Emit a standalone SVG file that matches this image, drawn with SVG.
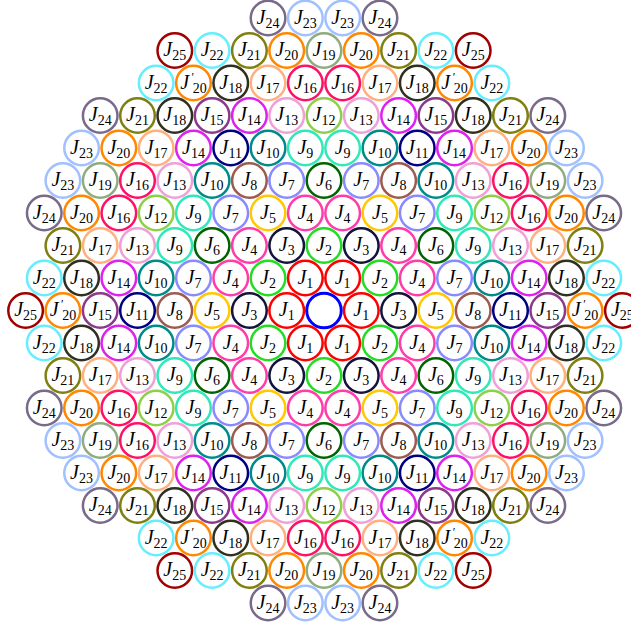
<svg xmlns="http://www.w3.org/2000/svg" width="631" height="624" viewBox="0 0 631 624">
<style>
circle{fill:#fff;stroke-width:2.5}
text{font-family:"Liberation Serif","Times New Roman",serif;font-size:20px;font-style:italic;text-anchor:middle;fill:#000}
tspan{font-style:normal;font-size:14px}
tspan.p{font-size:12px}
.c0{stroke:#0000ff;stroke-width:3}
.c1{stroke:#ff0000}.c2{stroke:#22dd22}.c3{stroke:#14143c}.c4{stroke:#ff3caa}.c5{stroke:#ffc800}
.c6{stroke:#006400}.c7{stroke:#8a8aff}.c8{stroke:#9c5a50}.c9{stroke:#30e8b8}.c10{stroke:#008b8b}
.c11{stroke:#000080}.c12{stroke:#8ed04a}.c13{stroke:#f0a0d8}.c14{stroke:#dd22ee}.c15{stroke:#8b3a8b}
.c16{stroke:#ff1166}.c17{stroke:#ffb080}.c18{stroke:#303020}.c19{stroke:#8fac80}.c20{stroke:#ff8800}
.c21{stroke:#808010}.c22{stroke:#66eeff}.c23{stroke:#a0c0ff}.c24{stroke:#7a6a8a}.c25{stroke:#a00000}
</style>
<g id="nodes">
<!-- row 1 -->
<g id="n1_1" transform="translate(268.05,18)"><circle r="17.3" class="c24"/><text y="5.5">J<tspan dy="4">24</tspan></text></g>
<g id="n1_2" transform="translate(305.35,18)"><circle r="17.3" class="c23"/><text y="5.5">J<tspan dy="4">23</tspan></text></g>
<g id="n1_3" transform="translate(342.65,18)"><circle r="17.3" class="c23"/><text y="5.5">J<tspan dy="4">23</tspan></text></g>
<g id="n1_4" transform="translate(379.95,18)"><circle r="17.3" class="c24"/><text y="5.5">J<tspan dy="4">24</tspan></text></g>
<!-- row 2 -->
<g id="n2_1" transform="translate(174.8,50.5)"><circle r="17.3" class="c25"/><text y="5.5">J<tspan dy="4">25</tspan></text></g>
<g id="n2_2" transform="translate(212.1,50.5)"><circle r="17.3" class="c22"/><text y="5.5">J<tspan dy="4">22</tspan></text></g>
<g id="n2_3" transform="translate(249.4,50.5)"><circle r="17.3" class="c21"/><text y="5.5">J<tspan dy="4">21</tspan></text></g>
<g id="n2_4" transform="translate(286.7,50.5)"><circle r="17.3" class="c20"/><text y="5.5">J<tspan dy="4">20</tspan></text></g>
<g id="n2_5" transform="translate(324,50.5)"><circle r="17.3" class="c19"/><text y="5.5">J<tspan dy="4">19</tspan></text></g>
<g id="n2_6" transform="translate(361.3,50.5)"><circle r="17.3" class="c20"/><text y="5.5">J<tspan dy="4">20</tspan></text></g>
<g id="n2_7" transform="translate(398.6,50.5)"><circle r="17.3" class="c21"/><text y="5.5">J<tspan dy="4">21</tspan></text></g>
<g id="n2_8" transform="translate(435.9,50.5)"><circle r="17.3" class="c22"/><text y="5.5">J<tspan dy="4">22</tspan></text></g>
<g id="n2_9" transform="translate(473.2,50.5)"><circle r="17.3" class="c25"/><text y="5.5">J<tspan dy="4">25</tspan></text></g>
<!-- row 3 -->
<g id="n3_1" transform="translate(156.15,83)"><circle r="17.3" class="c22"/><text y="5.5">J<tspan dy="4">22</tspan></text></g>
<g id="n3_2" transform="translate(193.45,83)"><circle r="17.3" class="c20"/><text y="5.5">J<tspan class="p" dx="2.5" dy="-8">′</tspan><tspan dx="-1.5" dy="12">20</tspan></text></g>
<g id="n3_3" transform="translate(230.75,83)"><circle r="17.3" class="c18"/><text y="5.5">J<tspan dy="4">18</tspan></text></g>
<g id="n3_4" transform="translate(268.05,83)"><circle r="17.3" class="c17"/><text y="5.5">J<tspan dy="4">17</tspan></text></g>
<g id="n3_5" transform="translate(305.35,83)"><circle r="17.3" class="c16"/><text y="5.5">J<tspan dy="4">16</tspan></text></g>
<g id="n3_6" transform="translate(342.65,83)"><circle r="17.3" class="c16"/><text y="5.5">J<tspan dy="4">16</tspan></text></g>
<g id="n3_7" transform="translate(379.95,83)"><circle r="17.3" class="c17"/><text y="5.5">J<tspan dy="4">17</tspan></text></g>
<g id="n3_8" transform="translate(417.25,83)"><circle r="17.3" class="c18"/><text y="5.5">J<tspan dy="4">18</tspan></text></g>
<g id="n3_9" transform="translate(454.55,83)"><circle r="17.3" class="c20"/><text y="5.5">J<tspan class="p" dx="2.5" dy="-8">′</tspan><tspan dx="-1.5" dy="12">20</tspan></text></g>
<g id="n3_10" transform="translate(491.85,83)"><circle r="17.3" class="c22"/><text y="5.5">J<tspan dy="4">22</tspan></text></g>
<!-- row 4 -->
<g id="n4_1" transform="translate(100.2,115.5)"><circle r="17.3" class="c24"/><text y="5.5">J<tspan dy="4">24</tspan></text></g>
<g id="n4_2" transform="translate(137.5,115.5)"><circle r="17.3" class="c21"/><text y="5.5">J<tspan dy="4">21</tspan></text></g>
<g id="n4_3" transform="translate(174.8,115.5)"><circle r="17.3" class="c18"/><text y="5.5">J<tspan dy="4">18</tspan></text></g>
<g id="n4_4" transform="translate(212.1,115.5)"><circle r="17.3" class="c15"/><text y="5.5">J<tspan dy="4">15</tspan></text></g>
<g id="n4_5" transform="translate(249.4,115.5)"><circle r="17.3" class="c14"/><text y="5.5">J<tspan dy="4">14</tspan></text></g>
<g id="n4_6" transform="translate(286.7,115.5)"><circle r="17.3" class="c13"/><text y="5.5">J<tspan dy="4">13</tspan></text></g>
<g id="n4_7" transform="translate(324,115.5)"><circle r="17.3" class="c12"/><text y="5.5">J<tspan dy="4">12</tspan></text></g>
<g id="n4_8" transform="translate(361.3,115.5)"><circle r="17.3" class="c13"/><text y="5.5">J<tspan dy="4">13</tspan></text></g>
<g id="n4_9" transform="translate(398.6,115.5)"><circle r="17.3" class="c14"/><text y="5.5">J<tspan dy="4">14</tspan></text></g>
<g id="n4_10" transform="translate(435.9,115.5)"><circle r="17.3" class="c15"/><text y="5.5">J<tspan dy="4">15</tspan></text></g>
<g id="n4_11" transform="translate(473.2,115.5)"><circle r="17.3" class="c18"/><text y="5.5">J<tspan dy="4">18</tspan></text></g>
<g id="n4_12" transform="translate(510.5,115.5)"><circle r="17.3" class="c21"/><text y="5.5">J<tspan dy="4">21</tspan></text></g>
<g id="n4_13" transform="translate(547.8,115.5)"><circle r="17.3" class="c24"/><text y="5.5">J<tspan dy="4">24</tspan></text></g>
<!-- row 5 -->
<g id="n5_1" transform="translate(81.55,148)"><circle r="17.3" class="c23"/><text y="5.5">J<tspan dy="4">23</tspan></text></g>
<g id="n5_2" transform="translate(118.85,148)"><circle r="17.3" class="c20"/><text y="5.5">J<tspan dy="4">20</tspan></text></g>
<g id="n5_3" transform="translate(156.15,148)"><circle r="17.3" class="c17"/><text y="5.5">J<tspan dy="4">17</tspan></text></g>
<g id="n5_4" transform="translate(193.45,148)"><circle r="17.3" class="c14"/><text y="5.5">J<tspan dy="4">14</tspan></text></g>
<g id="n5_5" transform="translate(230.75,148)"><circle r="17.3" class="c11"/><text y="5.5">J<tspan dy="4">11</tspan></text></g>
<g id="n5_6" transform="translate(268.05,148)"><circle r="17.3" class="c10"/><text y="5.5">J<tspan dy="4">10</tspan></text></g>
<g id="n5_7" transform="translate(305.35,148)"><circle r="17.3" class="c9"/><text y="5.5">J<tspan dy="4">9</tspan></text></g>
<g id="n5_8" transform="translate(342.65,148)"><circle r="17.3" class="c9"/><text y="5.5">J<tspan dy="4">9</tspan></text></g>
<g id="n5_9" transform="translate(379.95,148)"><circle r="17.3" class="c10"/><text y="5.5">J<tspan dy="4">10</tspan></text></g>
<g id="n5_10" transform="translate(417.25,148)"><circle r="17.3" class="c11"/><text y="5.5">J<tspan dy="4">11</tspan></text></g>
<g id="n5_11" transform="translate(454.55,148)"><circle r="17.3" class="c14"/><text y="5.5">J<tspan dy="4">14</tspan></text></g>
<g id="n5_12" transform="translate(491.85,148)"><circle r="17.3" class="c17"/><text y="5.5">J<tspan dy="4">17</tspan></text></g>
<g id="n5_13" transform="translate(529.15,148)"><circle r="17.3" class="c20"/><text y="5.5">J<tspan dy="4">20</tspan></text></g>
<g id="n5_14" transform="translate(566.45,148)"><circle r="17.3" class="c23"/><text y="5.5">J<tspan dy="4">23</tspan></text></g>
<!-- row 6 -->
<g id="n6_1" transform="translate(62.9,180.5)"><circle r="17.3" class="c23"/><text y="5.5">J<tspan dy="4">23</tspan></text></g>
<g id="n6_2" transform="translate(100.2,180.5)"><circle r="17.3" class="c19"/><text y="5.5">J<tspan dy="4">19</tspan></text></g>
<g id="n6_3" transform="translate(137.5,180.5)"><circle r="17.3" class="c16"/><text y="5.5">J<tspan dy="4">16</tspan></text></g>
<g id="n6_4" transform="translate(174.8,180.5)"><circle r="17.3" class="c13"/><text y="5.5">J<tspan dy="4">13</tspan></text></g>
<g id="n6_5" transform="translate(212.1,180.5)"><circle r="17.3" class="c10"/><text y="5.5">J<tspan dy="4">10</tspan></text></g>
<g id="n6_6" transform="translate(249.4,180.5)"><circle r="17.3" class="c8"/><text y="5.5">J<tspan dy="4">8</tspan></text></g>
<g id="n6_7" transform="translate(286.7,180.5)"><circle r="17.3" class="c7"/><text y="5.5">J<tspan dy="4">7</tspan></text></g>
<g id="n6_8" transform="translate(324,180.5)"><circle r="17.3" class="c6"/><text y="5.5">J<tspan dy="4">6</tspan></text></g>
<g id="n6_9" transform="translate(361.3,180.5)"><circle r="17.3" class="c7"/><text y="5.5">J<tspan dy="4">7</tspan></text></g>
<g id="n6_10" transform="translate(398.6,180.5)"><circle r="17.3" class="c8"/><text y="5.5">J<tspan dy="4">8</tspan></text></g>
<g id="n6_11" transform="translate(435.9,180.5)"><circle r="17.3" class="c10"/><text y="5.5">J<tspan dy="4">10</tspan></text></g>
<g id="n6_12" transform="translate(473.2,180.5)"><circle r="17.3" class="c13"/><text y="5.5">J<tspan dy="4">13</tspan></text></g>
<g id="n6_13" transform="translate(510.5,180.5)"><circle r="17.3" class="c16"/><text y="5.5">J<tspan dy="4">16</tspan></text></g>
<g id="n6_14" transform="translate(547.8,180.5)"><circle r="17.3" class="c19"/><text y="5.5">J<tspan dy="4">19</tspan></text></g>
<g id="n6_15" transform="translate(585.1,180.5)"><circle r="17.3" class="c23"/><text y="5.5">J<tspan dy="4">23</tspan></text></g>
<!-- row 7 -->
<g id="n7_1" transform="translate(44.25,213)"><circle r="17.3" class="c24"/><text y="5.5">J<tspan dy="4">24</tspan></text></g>
<g id="n7_2" transform="translate(81.55,213)"><circle r="17.3" class="c20"/><text y="5.5">J<tspan dy="4">20</tspan></text></g>
<g id="n7_3" transform="translate(118.85,213)"><circle r="17.3" class="c16"/><text y="5.5">J<tspan dy="4">16</tspan></text></g>
<g id="n7_4" transform="translate(156.15,213)"><circle r="17.3" class="c12"/><text y="5.5">J<tspan dy="4">12</tspan></text></g>
<g id="n7_5" transform="translate(193.45,213)"><circle r="17.3" class="c9"/><text y="5.5">J<tspan dy="4">9</tspan></text></g>
<g id="n7_6" transform="translate(230.75,213)"><circle r="17.3" class="c7"/><text y="5.5">J<tspan dy="4">7</tspan></text></g>
<g id="n7_7" transform="translate(268.05,213)"><circle r="17.3" class="c5"/><text y="5.5">J<tspan dy="4">5</tspan></text></g>
<g id="n7_8" transform="translate(305.35,213)"><circle r="17.3" class="c4"/><text y="5.5">J<tspan dy="4">4</tspan></text></g>
<g id="n7_9" transform="translate(342.65,213)"><circle r="17.3" class="c4"/><text y="5.5">J<tspan dy="4">4</tspan></text></g>
<g id="n7_10" transform="translate(379.95,213)"><circle r="17.3" class="c5"/><text y="5.5">J<tspan dy="4">5</tspan></text></g>
<g id="n7_11" transform="translate(417.25,213)"><circle r="17.3" class="c7"/><text y="5.5">J<tspan dy="4">7</tspan></text></g>
<g id="n7_12" transform="translate(454.55,213)"><circle r="17.3" class="c9"/><text y="5.5">J<tspan dy="4">9</tspan></text></g>
<g id="n7_13" transform="translate(491.85,213)"><circle r="17.3" class="c12"/><text y="5.5">J<tspan dy="4">12</tspan></text></g>
<g id="n7_14" transform="translate(529.15,213)"><circle r="17.3" class="c16"/><text y="5.5">J<tspan dy="4">16</tspan></text></g>
<g id="n7_15" transform="translate(566.45,213)"><circle r="17.3" class="c20"/><text y="5.5">J<tspan dy="4">20</tspan></text></g>
<g id="n7_16" transform="translate(603.75,213)"><circle r="17.3" class="c24"/><text y="5.5">J<tspan dy="4">24</tspan></text></g>
<!-- row 8 -->
<g id="n8_1" transform="translate(62.9,245.5)"><circle r="17.3" class="c21"/><text y="5.5">J<tspan dy="4">21</tspan></text></g>
<g id="n8_2" transform="translate(100.2,245.5)"><circle r="17.3" class="c17"/><text y="5.5">J<tspan dy="4">17</tspan></text></g>
<g id="n8_3" transform="translate(137.5,245.5)"><circle r="17.3" class="c13"/><text y="5.5">J<tspan dy="4">13</tspan></text></g>
<g id="n8_4" transform="translate(174.8,245.5)"><circle r="17.3" class="c9"/><text y="5.5">J<tspan dy="4">9</tspan></text></g>
<g id="n8_5" transform="translate(212.1,245.5)"><circle r="17.3" class="c6"/><text y="5.5">J<tspan dy="4">6</tspan></text></g>
<g id="n8_6" transform="translate(249.4,245.5)"><circle r="17.3" class="c4"/><text y="5.5">J<tspan dy="4">4</tspan></text></g>
<g id="n8_7" transform="translate(286.7,245.5)"><circle r="17.3" class="c3"/><text y="5.5">J<tspan dy="4">3</tspan></text></g>
<g id="n8_8" transform="translate(324,245.5)"><circle r="17.3" class="c2"/><text y="5.5">J<tspan dy="4">2</tspan></text></g>
<g id="n8_9" transform="translate(361.3,245.5)"><circle r="17.3" class="c3"/><text y="5.5">J<tspan dy="4">3</tspan></text></g>
<g id="n8_10" transform="translate(398.6,245.5)"><circle r="17.3" class="c4"/><text y="5.5">J<tspan dy="4">4</tspan></text></g>
<g id="n8_11" transform="translate(435.9,245.5)"><circle r="17.3" class="c6"/><text y="5.5">J<tspan dy="4">6</tspan></text></g>
<g id="n8_12" transform="translate(473.2,245.5)"><circle r="17.3" class="c9"/><text y="5.5">J<tspan dy="4">9</tspan></text></g>
<g id="n8_13" transform="translate(510.5,245.5)"><circle r="17.3" class="c13"/><text y="5.5">J<tspan dy="4">13</tspan></text></g>
<g id="n8_14" transform="translate(547.8,245.5)"><circle r="17.3" class="c17"/><text y="5.5">J<tspan dy="4">17</tspan></text></g>
<g id="n8_15" transform="translate(585.1,245.5)"><circle r="17.3" class="c21"/><text y="5.5">J<tspan dy="4">21</tspan></text></g>
<!-- row 9 -->
<g id="n9_1" transform="translate(44.25,278)"><circle r="17.3" class="c22"/><text y="5.5">J<tspan dy="4">22</tspan></text></g>
<g id="n9_2" transform="translate(81.55,278)"><circle r="17.3" class="c18"/><text y="5.5">J<tspan dy="4">18</tspan></text></g>
<g id="n9_3" transform="translate(118.85,278)"><circle r="17.3" class="c14"/><text y="5.5">J<tspan dy="4">14</tspan></text></g>
<g id="n9_4" transform="translate(156.15,278)"><circle r="17.3" class="c10"/><text y="5.5">J<tspan dy="4">10</tspan></text></g>
<g id="n9_5" transform="translate(193.45,278)"><circle r="17.3" class="c7"/><text y="5.5">J<tspan dy="4">7</tspan></text></g>
<g id="n9_6" transform="translate(230.75,278)"><circle r="17.3" class="c4"/><text y="5.5">J<tspan dy="4">4</tspan></text></g>
<g id="n9_7" transform="translate(268.05,278)"><circle r="17.3" class="c2"/><text y="5.5">J<tspan dy="4">2</tspan></text></g>
<g id="n9_8" transform="translate(305.35,278)"><circle r="17.3" class="c1"/><text y="5.5">J<tspan dy="4">1</tspan></text></g>
<g id="n9_9" transform="translate(342.65,278)"><circle r="17.3" class="c1"/><text y="5.5">J<tspan dy="4">1</tspan></text></g>
<g id="n9_10" transform="translate(379.95,278)"><circle r="17.3" class="c2"/><text y="5.5">J<tspan dy="4">2</tspan></text></g>
<g id="n9_11" transform="translate(417.25,278)"><circle r="17.3" class="c4"/><text y="5.5">J<tspan dy="4">4</tspan></text></g>
<g id="n9_12" transform="translate(454.55,278)"><circle r="17.3" class="c7"/><text y="5.5">J<tspan dy="4">7</tspan></text></g>
<g id="n9_13" transform="translate(491.85,278)"><circle r="17.3" class="c10"/><text y="5.5">J<tspan dy="4">10</tspan></text></g>
<g id="n9_14" transform="translate(529.15,278)"><circle r="17.3" class="c14"/><text y="5.5">J<tspan dy="4">14</tspan></text></g>
<g id="n9_15" transform="translate(566.45,278)"><circle r="17.3" class="c18"/><text y="5.5">J<tspan dy="4">18</tspan></text></g>
<g id="n9_16" transform="translate(603.75,278)"><circle r="17.3" class="c22"/><text y="5.5">J<tspan dy="4">22</tspan></text></g>
<!-- row 10 (centre) -->
<g id="n10_1" transform="translate(25.6,310.5)"><circle r="17.3" class="c25"/><text y="5.5">J<tspan dy="4">25</tspan></text></g>
<g id="n10_2" transform="translate(62.9,310.5)"><circle r="17.3" class="c20"/><text y="5.5">J<tspan class="p" dx="2.5" dy="-8">′</tspan><tspan dx="-1.5" dy="12">20</tspan></text></g>
<g id="n10_3" transform="translate(100.2,310.5)"><circle r="17.3" class="c15"/><text y="5.5">J<tspan dy="4">15</tspan></text></g>
<g id="n10_4" transform="translate(137.5,310.5)"><circle r="17.3" class="c11"/><text y="5.5">J<tspan dy="4">11</tspan></text></g>
<g id="n10_5" transform="translate(174.8,310.5)"><circle r="17.3" class="c8"/><text y="5.5">J<tspan dy="4">8</tspan></text></g>
<g id="n10_6" transform="translate(212.1,310.5)"><circle r="17.3" class="c5"/><text y="5.5">J<tspan dy="4">5</tspan></text></g>
<g id="n10_7" transform="translate(249.4,310.5)"><circle r="17.3" class="c3"/><text y="5.5">J<tspan dy="4">3</tspan></text></g>
<g id="n10_8" transform="translate(286.7,310.5)"><circle r="17.3" class="c1"/><text y="5.5">J<tspan dy="4">1</tspan></text></g>
<g id="n10_9" transform="translate(324,310.5)"><circle r="17.3" class="c0"/></g>
<g id="n10_10" transform="translate(361.3,310.5)"><circle r="17.3" class="c1"/><text y="5.5">J<tspan dy="4">1</tspan></text></g>
<g id="n10_11" transform="translate(398.6,310.5)"><circle r="17.3" class="c3"/><text y="5.5">J<tspan dy="4">3</tspan></text></g>
<g id="n10_12" transform="translate(435.9,310.5)"><circle r="17.3" class="c5"/><text y="5.5">J<tspan dy="4">5</tspan></text></g>
<g id="n10_13" transform="translate(473.2,310.5)"><circle r="17.3" class="c8"/><text y="5.5">J<tspan dy="4">8</tspan></text></g>
<g id="n10_14" transform="translate(510.5,310.5)"><circle r="17.3" class="c11"/><text y="5.5">J<tspan dy="4">11</tspan></text></g>
<g id="n10_15" transform="translate(547.8,310.5)"><circle r="17.3" class="c15"/><text y="5.5">J<tspan dy="4">15</tspan></text></g>
<g id="n10_16" transform="translate(585.1,310.5)"><circle r="17.3" class="c20"/><text y="5.5">J<tspan class="p" dx="2.5" dy="-8">′</tspan><tspan dx="-1.5" dy="12">20</tspan></text></g>
<g id="n10_17" transform="translate(622.4,310.5)"><circle r="17.3" class="c25"/><text y="5.5">J<tspan dy="4">25</tspan></text></g>
<!-- row 11 -->
<g id="n11_1" transform="translate(44.25,343)"><circle r="17.3" class="c22"/><text y="5.5">J<tspan dy="4">22</tspan></text></g>
<g id="n11_2" transform="translate(81.55,343)"><circle r="17.3" class="c18"/><text y="5.5">J<tspan dy="4">18</tspan></text></g>
<g id="n11_3" transform="translate(118.85,343)"><circle r="17.3" class="c14"/><text y="5.5">J<tspan dy="4">14</tspan></text></g>
<g id="n11_4" transform="translate(156.15,343)"><circle r="17.3" class="c10"/><text y="5.5">J<tspan dy="4">10</tspan></text></g>
<g id="n11_5" transform="translate(193.45,343)"><circle r="17.3" class="c7"/><text y="5.5">J<tspan dy="4">7</tspan></text></g>
<g id="n11_6" transform="translate(230.75,343)"><circle r="17.3" class="c4"/><text y="5.5">J<tspan dy="4">4</tspan></text></g>
<g id="n11_7" transform="translate(268.05,343)"><circle r="17.3" class="c2"/><text y="5.5">J<tspan dy="4">2</tspan></text></g>
<g id="n11_8" transform="translate(305.35,343)"><circle r="17.3" class="c1"/><text y="5.5">J<tspan dy="4">1</tspan></text></g>
<g id="n11_9" transform="translate(342.65,343)"><circle r="17.3" class="c1"/><text y="5.5">J<tspan dy="4">1</tspan></text></g>
<g id="n11_10" transform="translate(379.95,343)"><circle r="17.3" class="c2"/><text y="5.5">J<tspan dy="4">2</tspan></text></g>
<g id="n11_11" transform="translate(417.25,343)"><circle r="17.3" class="c4"/><text y="5.5">J<tspan dy="4">4</tspan></text></g>
<g id="n11_12" transform="translate(454.55,343)"><circle r="17.3" class="c7"/><text y="5.5">J<tspan dy="4">7</tspan></text></g>
<g id="n11_13" transform="translate(491.85,343)"><circle r="17.3" class="c10"/><text y="5.5">J<tspan dy="4">10</tspan></text></g>
<g id="n11_14" transform="translate(529.15,343)"><circle r="17.3" class="c14"/><text y="5.5">J<tspan dy="4">14</tspan></text></g>
<g id="n11_15" transform="translate(566.45,343)"><circle r="17.3" class="c18"/><text y="5.5">J<tspan dy="4">18</tspan></text></g>
<g id="n11_16" transform="translate(603.75,343)"><circle r="17.3" class="c22"/><text y="5.5">J<tspan dy="4">22</tspan></text></g>
<!-- row 12 -->
<g id="n12_1" transform="translate(62.9,375.5)"><circle r="17.3" class="c21"/><text y="5.5">J<tspan dy="4">21</tspan></text></g>
<g id="n12_2" transform="translate(100.2,375.5)"><circle r="17.3" class="c17"/><text y="5.5">J<tspan dy="4">17</tspan></text></g>
<g id="n12_3" transform="translate(137.5,375.5)"><circle r="17.3" class="c13"/><text y="5.5">J<tspan dy="4">13</tspan></text></g>
<g id="n12_4" transform="translate(174.8,375.5)"><circle r="17.3" class="c9"/><text y="5.5">J<tspan dy="4">9</tspan></text></g>
<g id="n12_5" transform="translate(212.1,375.5)"><circle r="17.3" class="c6"/><text y="5.5">J<tspan dy="4">6</tspan></text></g>
<g id="n12_6" transform="translate(249.4,375.5)"><circle r="17.3" class="c4"/><text y="5.5">J<tspan dy="4">4</tspan></text></g>
<g id="n12_7" transform="translate(286.7,375.5)"><circle r="17.3" class="c3"/><text y="5.5">J<tspan dy="4">3</tspan></text></g>
<g id="n12_8" transform="translate(324,375.5)"><circle r="17.3" class="c2"/><text y="5.5">J<tspan dy="4">2</tspan></text></g>
<g id="n12_9" transform="translate(361.3,375.5)"><circle r="17.3" class="c3"/><text y="5.5">J<tspan dy="4">3</tspan></text></g>
<g id="n12_10" transform="translate(398.6,375.5)"><circle r="17.3" class="c4"/><text y="5.5">J<tspan dy="4">4</tspan></text></g>
<g id="n12_11" transform="translate(435.9,375.5)"><circle r="17.3" class="c6"/><text y="5.5">J<tspan dy="4">6</tspan></text></g>
<g id="n12_12" transform="translate(473.2,375.5)"><circle r="17.3" class="c9"/><text y="5.5">J<tspan dy="4">9</tspan></text></g>
<g id="n12_13" transform="translate(510.5,375.5)"><circle r="17.3" class="c13"/><text y="5.5">J<tspan dy="4">13</tspan></text></g>
<g id="n12_14" transform="translate(547.8,375.5)"><circle r="17.3" class="c17"/><text y="5.5">J<tspan dy="4">17</tspan></text></g>
<g id="n12_15" transform="translate(585.1,375.5)"><circle r="17.3" class="c21"/><text y="5.5">J<tspan dy="4">21</tspan></text></g>
<!-- row 13 -->
<g id="n13_1" transform="translate(44.25,408)"><circle r="17.3" class="c24"/><text y="5.5">J<tspan dy="4">24</tspan></text></g>
<g id="n13_2" transform="translate(81.55,408)"><circle r="17.3" class="c20"/><text y="5.5">J<tspan dy="4">20</tspan></text></g>
<g id="n13_3" transform="translate(118.85,408)"><circle r="17.3" class="c16"/><text y="5.5">J<tspan dy="4">16</tspan></text></g>
<g id="n13_4" transform="translate(156.15,408)"><circle r="17.3" class="c12"/><text y="5.5">J<tspan dy="4">12</tspan></text></g>
<g id="n13_5" transform="translate(193.45,408)"><circle r="17.3" class="c9"/><text y="5.5">J<tspan dy="4">9</tspan></text></g>
<g id="n13_6" transform="translate(230.75,408)"><circle r="17.3" class="c7"/><text y="5.5">J<tspan dy="4">7</tspan></text></g>
<g id="n13_7" transform="translate(268.05,408)"><circle r="17.3" class="c5"/><text y="5.5">J<tspan dy="4">5</tspan></text></g>
<g id="n13_8" transform="translate(305.35,408)"><circle r="17.3" class="c4"/><text y="5.5">J<tspan dy="4">4</tspan></text></g>
<g id="n13_9" transform="translate(342.65,408)"><circle r="17.3" class="c4"/><text y="5.5">J<tspan dy="4">4</tspan></text></g>
<g id="n13_10" transform="translate(379.95,408)"><circle r="17.3" class="c5"/><text y="5.5">J<tspan dy="4">5</tspan></text></g>
<g id="n13_11" transform="translate(417.25,408)"><circle r="17.3" class="c7"/><text y="5.5">J<tspan dy="4">7</tspan></text></g>
<g id="n13_12" transform="translate(454.55,408)"><circle r="17.3" class="c9"/><text y="5.5">J<tspan dy="4">9</tspan></text></g>
<g id="n13_13" transform="translate(491.85,408)"><circle r="17.3" class="c12"/><text y="5.5">J<tspan dy="4">12</tspan></text></g>
<g id="n13_14" transform="translate(529.15,408)"><circle r="17.3" class="c16"/><text y="5.5">J<tspan dy="4">16</tspan></text></g>
<g id="n13_15" transform="translate(566.45,408)"><circle r="17.3" class="c20"/><text y="5.5">J<tspan dy="4">20</tspan></text></g>
<g id="n13_16" transform="translate(603.75,408)"><circle r="17.3" class="c24"/><text y="5.5">J<tspan dy="4">24</tspan></text></g>
<!-- row 14 -->
<g id="n14_1" transform="translate(62.9,440.5)"><circle r="17.3" class="c23"/><text y="5.5">J<tspan dy="4">23</tspan></text></g>
<g id="n14_2" transform="translate(100.2,440.5)"><circle r="17.3" class="c19"/><text y="5.5">J<tspan dy="4">19</tspan></text></g>
<g id="n14_3" transform="translate(137.5,440.5)"><circle r="17.3" class="c16"/><text y="5.5">J<tspan dy="4">16</tspan></text></g>
<g id="n14_4" transform="translate(174.8,440.5)"><circle r="17.3" class="c13"/><text y="5.5">J<tspan dy="4">13</tspan></text></g>
<g id="n14_5" transform="translate(212.1,440.5)"><circle r="17.3" class="c10"/><text y="5.5">J<tspan dy="4">10</tspan></text></g>
<g id="n14_6" transform="translate(249.4,440.5)"><circle r="17.3" class="c8"/><text y="5.5">J<tspan dy="4">8</tspan></text></g>
<g id="n14_7" transform="translate(286.7,440.5)"><circle r="17.3" class="c7"/><text y="5.5">J<tspan dy="4">7</tspan></text></g>
<g id="n14_8" transform="translate(324,440.5)"><circle r="17.3" class="c6"/><text y="5.5">J<tspan dy="4">6</tspan></text></g>
<g id="n14_9" transform="translate(361.3,440.5)"><circle r="17.3" class="c7"/><text y="5.5">J<tspan dy="4">7</tspan></text></g>
<g id="n14_10" transform="translate(398.6,440.5)"><circle r="17.3" class="c8"/><text y="5.5">J<tspan dy="4">8</tspan></text></g>
<g id="n14_11" transform="translate(435.9,440.5)"><circle r="17.3" class="c10"/><text y="5.5">J<tspan dy="4">10</tspan></text></g>
<g id="n14_12" transform="translate(473.2,440.5)"><circle r="17.3" class="c13"/><text y="5.5">J<tspan dy="4">13</tspan></text></g>
<g id="n14_13" transform="translate(510.5,440.5)"><circle r="17.3" class="c16"/><text y="5.5">J<tspan dy="4">16</tspan></text></g>
<g id="n14_14" transform="translate(547.8,440.5)"><circle r="17.3" class="c19"/><text y="5.5">J<tspan dy="4">19</tspan></text></g>
<g id="n14_15" transform="translate(585.1,440.5)"><circle r="17.3" class="c23"/><text y="5.5">J<tspan dy="4">23</tspan></text></g>
<!-- row 15 -->
<g id="n15_1" transform="translate(81.55,473)"><circle r="17.3" class="c23"/><text y="5.5">J<tspan dy="4">23</tspan></text></g>
<g id="n15_2" transform="translate(118.85,473)"><circle r="17.3" class="c20"/><text y="5.5">J<tspan dy="4">20</tspan></text></g>
<g id="n15_3" transform="translate(156.15,473)"><circle r="17.3" class="c17"/><text y="5.5">J<tspan dy="4">17</tspan></text></g>
<g id="n15_4" transform="translate(193.45,473)"><circle r="17.3" class="c14"/><text y="5.5">J<tspan dy="4">14</tspan></text></g>
<g id="n15_5" transform="translate(230.75,473)"><circle r="17.3" class="c11"/><text y="5.5">J<tspan dy="4">11</tspan></text></g>
<g id="n15_6" transform="translate(268.05,473)"><circle r="17.3" class="c10"/><text y="5.5">J<tspan dy="4">10</tspan></text></g>
<g id="n15_7" transform="translate(305.35,473)"><circle r="17.3" class="c9"/><text y="5.5">J<tspan dy="4">9</tspan></text></g>
<g id="n15_8" transform="translate(342.65,473)"><circle r="17.3" class="c9"/><text y="5.5">J<tspan dy="4">9</tspan></text></g>
<g id="n15_9" transform="translate(379.95,473)"><circle r="17.3" class="c10"/><text y="5.5">J<tspan dy="4">10</tspan></text></g>
<g id="n15_10" transform="translate(417.25,473)"><circle r="17.3" class="c11"/><text y="5.5">J<tspan dy="4">11</tspan></text></g>
<g id="n15_11" transform="translate(454.55,473)"><circle r="17.3" class="c14"/><text y="5.5">J<tspan dy="4">14</tspan></text></g>
<g id="n15_12" transform="translate(491.85,473)"><circle r="17.3" class="c17"/><text y="5.5">J<tspan dy="4">17</tspan></text></g>
<g id="n15_13" transform="translate(529.15,473)"><circle r="17.3" class="c20"/><text y="5.5">J<tspan dy="4">20</tspan></text></g>
<g id="n15_14" transform="translate(566.45,473)"><circle r="17.3" class="c23"/><text y="5.5">J<tspan dy="4">23</tspan></text></g>
<!-- row 16 -->
<g id="n16_1" transform="translate(100.2,505.5)"><circle r="17.3" class="c24"/><text y="5.5">J<tspan dy="4">24</tspan></text></g>
<g id="n16_2" transform="translate(137.5,505.5)"><circle r="17.3" class="c21"/><text y="5.5">J<tspan dy="4">21</tspan></text></g>
<g id="n16_3" transform="translate(174.8,505.5)"><circle r="17.3" class="c18"/><text y="5.5">J<tspan dy="4">18</tspan></text></g>
<g id="n16_4" transform="translate(212.1,505.5)"><circle r="17.3" class="c15"/><text y="5.5">J<tspan dy="4">15</tspan></text></g>
<g id="n16_5" transform="translate(249.4,505.5)"><circle r="17.3" class="c14"/><text y="5.5">J<tspan dy="4">14</tspan></text></g>
<g id="n16_6" transform="translate(286.7,505.5)"><circle r="17.3" class="c13"/><text y="5.5">J<tspan dy="4">13</tspan></text></g>
<g id="n16_7" transform="translate(324,505.5)"><circle r="17.3" class="c12"/><text y="5.5">J<tspan dy="4">12</tspan></text></g>
<g id="n16_8" transform="translate(361.3,505.5)"><circle r="17.3" class="c13"/><text y="5.5">J<tspan dy="4">13</tspan></text></g>
<g id="n16_9" transform="translate(398.6,505.5)"><circle r="17.3" class="c14"/><text y="5.5">J<tspan dy="4">14</tspan></text></g>
<g id="n16_10" transform="translate(435.9,505.5)"><circle r="17.3" class="c15"/><text y="5.5">J<tspan dy="4">15</tspan></text></g>
<g id="n16_11" transform="translate(473.2,505.5)"><circle r="17.3" class="c18"/><text y="5.5">J<tspan dy="4">18</tspan></text></g>
<g id="n16_12" transform="translate(510.5,505.5)"><circle r="17.3" class="c21"/><text y="5.5">J<tspan dy="4">21</tspan></text></g>
<g id="n16_13" transform="translate(547.8,505.5)"><circle r="17.3" class="c24"/><text y="5.5">J<tspan dy="4">24</tspan></text></g>
<!-- row 17 -->
<g id="n17_1" transform="translate(156.15,538)"><circle r="17.3" class="c22"/><text y="5.5">J<tspan dy="4">22</tspan></text></g>
<g id="n17_2" transform="translate(193.45,538)"><circle r="17.3" class="c20"/><text y="5.5">J<tspan class="p" dx="2.5" dy="-8">′</tspan><tspan dx="-1.5" dy="12">20</tspan></text></g>
<g id="n17_3" transform="translate(230.75,538)"><circle r="17.3" class="c18"/><text y="5.5">J<tspan dy="4">18</tspan></text></g>
<g id="n17_4" transform="translate(268.05,538)"><circle r="17.3" class="c17"/><text y="5.5">J<tspan dy="4">17</tspan></text></g>
<g id="n17_5" transform="translate(305.35,538)"><circle r="17.3" class="c16"/><text y="5.5">J<tspan dy="4">16</tspan></text></g>
<g id="n17_6" transform="translate(342.65,538)"><circle r="17.3" class="c16"/><text y="5.5">J<tspan dy="4">16</tspan></text></g>
<g id="n17_7" transform="translate(379.95,538)"><circle r="17.3" class="c17"/><text y="5.5">J<tspan dy="4">17</tspan></text></g>
<g id="n17_8" transform="translate(417.25,538)"><circle r="17.3" class="c18"/><text y="5.5">J<tspan dy="4">18</tspan></text></g>
<g id="n17_9" transform="translate(454.55,538)"><circle r="17.3" class="c20"/><text y="5.5">J<tspan class="p" dx="2.5" dy="-8">′</tspan><tspan dx="-1.5" dy="12">20</tspan></text></g>
<g id="n17_10" transform="translate(491.85,538)"><circle r="17.3" class="c22"/><text y="5.5">J<tspan dy="4">22</tspan></text></g>
<!-- row 18 -->
<g id="n18_1" transform="translate(174.8,570.5)"><circle r="17.3" class="c25"/><text y="5.5">J<tspan dy="4">25</tspan></text></g>
<g id="n18_2" transform="translate(212.1,570.5)"><circle r="17.3" class="c22"/><text y="5.5">J<tspan dy="4">22</tspan></text></g>
<g id="n18_3" transform="translate(249.4,570.5)"><circle r="17.3" class="c21"/><text y="5.5">J<tspan dy="4">21</tspan></text></g>
<g id="n18_4" transform="translate(286.7,570.5)"><circle r="17.3" class="c20"/><text y="5.5">J<tspan dy="4">20</tspan></text></g>
<g id="n18_5" transform="translate(324,570.5)"><circle r="17.3" class="c19"/><text y="5.5">J<tspan dy="4">19</tspan></text></g>
<g id="n18_6" transform="translate(361.3,570.5)"><circle r="17.3" class="c20"/><text y="5.5">J<tspan dy="4">20</tspan></text></g>
<g id="n18_7" transform="translate(398.6,570.5)"><circle r="17.3" class="c21"/><text y="5.5">J<tspan dy="4">21</tspan></text></g>
<g id="n18_8" transform="translate(435.9,570.5)"><circle r="17.3" class="c22"/><text y="5.5">J<tspan dy="4">22</tspan></text></g>
<g id="n18_9" transform="translate(473.2,570.5)"><circle r="17.3" class="c25"/><text y="5.5">J<tspan dy="4">25</tspan></text></g>
<!-- row 19 -->
<g id="n19_1" transform="translate(268.05,603)"><circle r="17.3" class="c24"/><text y="5.5">J<tspan dy="4">24</tspan></text></g>
<g id="n19_2" transform="translate(305.35,603)"><circle r="17.3" class="c23"/><text y="5.5">J<tspan dy="4">23</tspan></text></g>
<g id="n19_3" transform="translate(342.65,603)"><circle r="17.3" class="c23"/><text y="5.5">J<tspan dy="4">23</tspan></text></g>
<g id="n19_4" transform="translate(379.95,603)"><circle r="17.3" class="c24"/><text y="5.5">J<tspan dy="4">24</tspan></text></g>
</g>
</svg>
